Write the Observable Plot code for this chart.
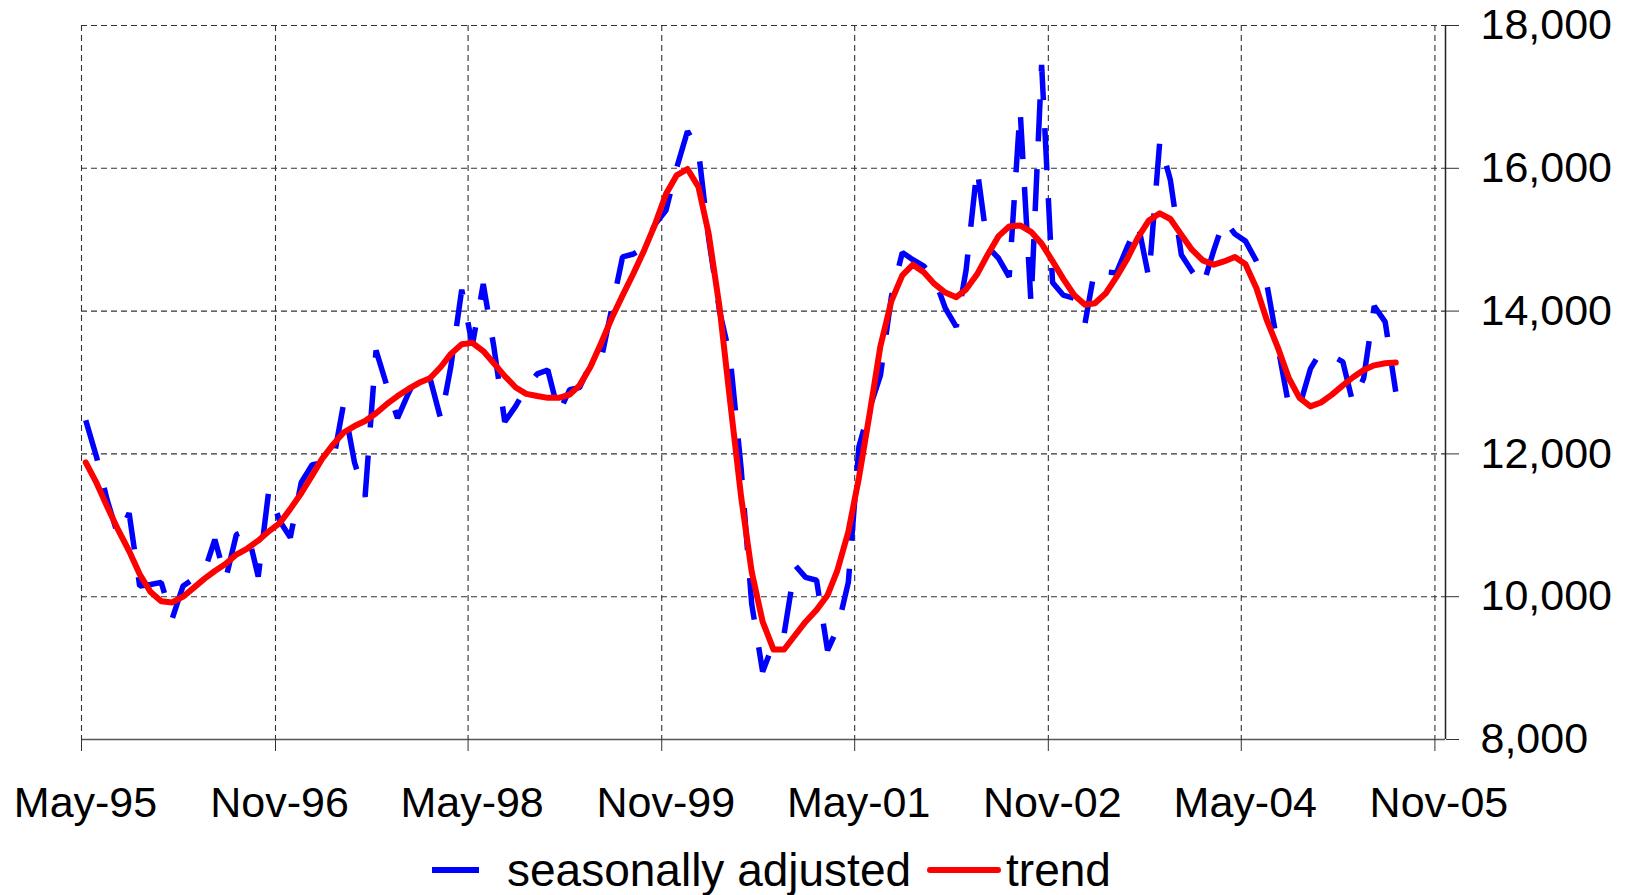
<!DOCTYPE html>
<html>
<head>
<meta charset="utf-8">
<script src="https://cdn.jsdelivr.net/npm/d3@7"></script>
<script src="https://cdn.jsdelivr.net/npm/@observablehq/plot@0.6"></script>
<style>
  body { margin: 0; background: #fff; font-family: "Liberation Sans", Arial, sans-serif; }
  #wrap { position: relative; width: 1632px; height: 895px; overflow: hidden; }
  #legend { position: absolute; left: 432px; top: 842px; height: 56px; display: flex; align-items: center;
            font-size: 46px; color: #000; white-space: nowrap; }
  #legend svg { display: block; }
</style>
</head>
<body>
<div id="wrap"><div id="chart"></div><div id="legend"></div></div>
<script>
// ---- data (monthly, May-95 .. Jul-05) ----
const startMonth = "May-95";
const seasonallyAdjusted = [
  12470, 11950, 11350, 10850, 11170, 10150, 10170, 10200, 9690, 10150,
  10250, 10350, 10800, 10250, 10870, 10930, 10280, 11490, 11060, 10830,
  11600, 11850, 11870, 11880, 12700, 11880, 11400, 13450, 12950, 12500,
  12850, 13150, 13060, 12480, 13220, 14300, 13520, 14380, 13500, 12450,
  12670, 12930, 13120, 13175, 12570, 12900, 12930, 13255, 13320, 14050,
  14760, 14800, 14890, 15215, 15410, 16000, 16520, 16250, 15020, 14000,
  13350, 11800, 9900, 8950, 9350, 9480, 10440, 10270, 10230, 9250,
  9550, 10200, 12100, 12650, 13100, 14200, 14820, 14720, 14630, 14460,
  14040, 13780, 14580, 16000, 14900, 14740, 14480, 16820, 14100, 17450,
  14400, 14225, 14180, 13830, 14600, 14550, 14535, 14900, 15230, 14465,
  16380, 15835, 14790, 14560, 14350, 14850, 15280, 15080, 14980, 14700,
  14365, 13500, 12665, 12665, 13190, 13440, 13375, 13290, 12720, 13060,
  14070, 13850, 12870
];
const trend = [
  11880, 11590, 11260, 10935, 10640, 10315, 10065, 9935, 9920, 10000,
  10120, 10250, 10360, 10460, 10590, 10675, 10785, 10915, 11030, 11230,
  11450, 11700, 11930, 12130, 12300, 12390, 12460, 12570, 12700, 12810,
  12910, 12995, 13060, 13220, 13400, 13535, 13555, 13440, 13270, 13090,
  12930, 12840, 12810, 12785, 12785, 12830, 12960, 13220, 13550, 13910,
  14220, 14530, 14860, 15215, 15640, 15900, 15990, 15740, 15085, 14050,
  12730, 11400, 10350, 9650, 9260, 9260, 9460, 9650, 9815, 10020,
  10370, 10910, 11665, 12580, 13510, 14140, 14500, 14650, 14545, 14380,
  14260, 14195, 14305, 14515, 14790, 15050, 15185, 15200, 15110, 14945,
  14700, 14455, 14225, 14088, 14110, 14250, 14475, 14735, 15030, 15270,
  15370, 15290, 15070, 14860, 14710, 14650, 14695, 14757, 14655, 14320,
  13865, 13485, 13060, 12785, 12665, 12720, 12830, 12960, 13070, 13175,
  13240, 13270, 13280
];
const xTickLabels = ["May-95", "Nov-96", "May-98", "Nov-99", "May-01", "Nov-02", "May-04", "Nov-05"];
const xEndMonth = "Dec-05";
const yTicks = [8000, 10000, 12000, 14000, 16000, 18000];
const seriesNames = ["seasonally adjusted", "trend"];
const seriesColors = ["#0000ff", "#ff0000"];

// ---- build ----
const parse = d3.utcParse("%b-%y");
const start = parse(startMonth);
const dateOf = i => d3.utcDay.offset(d3.utcMonth.offset(start, i), 12);
const saData = seasonallyAdjusted.map((v, i) => ({date: dateOf(i), value: v}));
const trData = trend.map((v, i) => ({date: dateOf(i), value: v}));
const xTickDates = xTickLabels.map(parse);
const xDomain = [start, parse(xEndMonth)];
const font = '"Liberation Sans", Arial, sans-serif';

const chart = Plot.plot({
  width: 1632,
  height: 830,
  marginLeft: 81,
  marginRight: 187,
  marginTop: 25,
  marginBottom: 91,
  style: {fontFamily: font, fontSize: "43px", color: "#000", background: "#fff", overflow: "visible"},
  x: {type: "utc", domain: xDomain, label: null},
  y: {domain: [yTicks[0], yTicks[yTicks.length - 1]], label: null},
  marks: [
    Plot.ruleY(yTicks.slice(1), {stroke: "#333", strokeWidth: 1.1, strokeDasharray: "6,4"}),
    Plot.ruleX(xTickDates, {stroke: "#333", strokeWidth: 1.1, strokeDasharray: "6,4"}),
    Plot.ruleY([yTicks[0]], {stroke: "#555", strokeWidth: 1.5}),
    Plot.ruleX([xDomain[1]], {stroke: "#222", strokeWidth: 1.5}),
    // tick marks
    Plot.axisX({ticks: xTickDates, tickFormat: () => "", tickSize: 12, stroke: "#333", label: null}),
    // tick labels
    Plot.axisX({ticks: xTickDates, tickFormat: d3.utcFormat("%b-%y"), tickSize: 0, tickPadding: 47,
                fontSize: 43, dx: 4, label: null}),
    Plot.axisY({anchor: "right", ticks: yTicks, tickFormat: d3.format(","), tickSize: 13, tickPadding: 22,
                stroke: "#333", fontSize: 43, label: null}),
    Plot.line(saData, {x: "date", y: "value", stroke: seriesColors[0], strokeWidth: 5.5,
                       strokeDasharray: "42,28", strokeLinecap: "butt", strokeLinejoin: "miter"}),
    Plot.line(trData, {x: "date", y: "value", stroke: seriesColors[1], strokeWidth: 6,
                       strokeLinejoin: "round", strokeLinecap: "round"})
  ]
});
document.getElementById("chart").appendChild(chart);

// ---- legend ----
const legend = d3.select("#legend");
const sw1 = legend.append("svg").attr("width", 47).attr("height", 10);
sw1.append("line").attr("x1", 0).attr("x2", 47).attr("y1", 5).attr("y2", 5)
   .attr("stroke", seriesColors[0]).attr("stroke-width", 6);
legend.append("span").style("margin-left", "28px").text(seriesNames[0]);
const sw2 = legend.append("svg").attr("width", 76).attr("height", 10).style("margin-left", "15px");
sw2.append("line").attr("x1", 4).attr("x2", 72).attr("y1", 5).attr("y2", 5)
   .attr("stroke", seriesColors[1]).attr("stroke-width", 6).attr("stroke-linecap", "round");
legend.append("span").style("margin-left", "4px").text(seriesNames[1]);
</script>
</body>
</html>
